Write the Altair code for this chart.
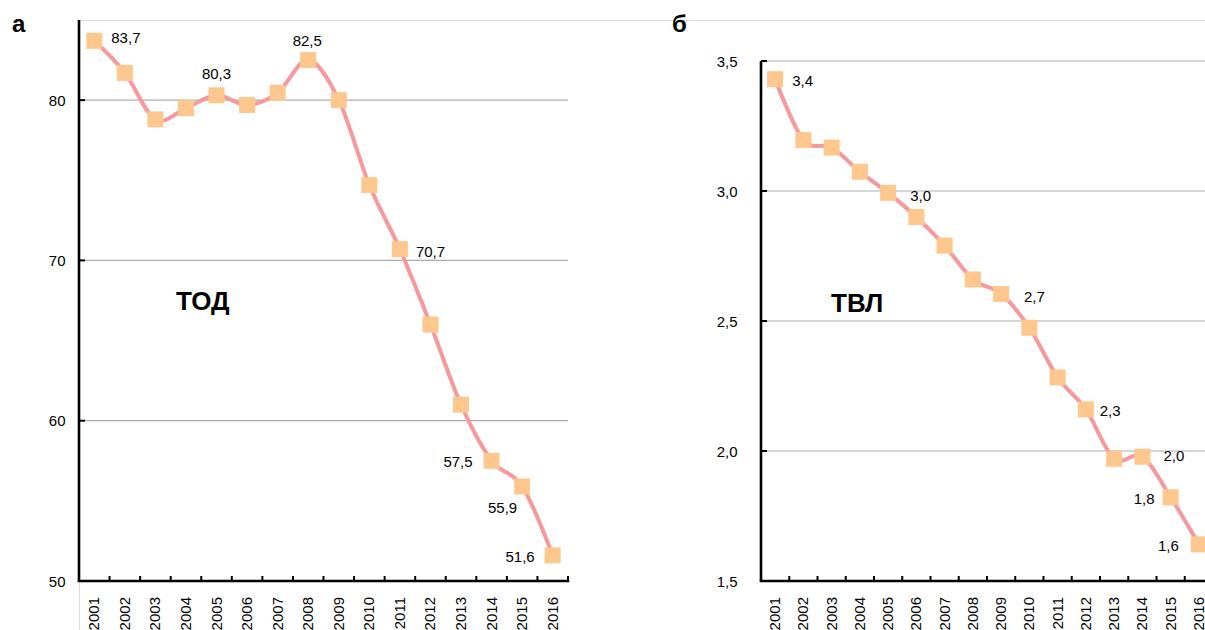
import altair as alt
import pandas as pd

# --- data -------------------------------------------------------------
years = [str(y) for y in range(2001, 2017)]

# panel "а": ТОД
tod_values = [83.7, 81.7, 78.8, 79.5, 80.3, 79.7, 80.45, 82.5,
              80.0, 74.7, 70.7, 66.0, 61.0, 57.5, 55.9, 51.6]
tod_ticks = [50, 60, 70, 80]
tod_grid = [60, 70, 80]
# years whose value is printed next to the marker
tod_labelled = ["2001", "2005", "2008", "2011", "2014", "2015", "2016"]

# panel "б": ТВЛ
tvl_values = [3.43, 3.196, 3.167, 3.074, 2.993, 2.90, 2.79, 2.66,
              2.604, 2.474, 2.283, 2.16, 1.970, 1.978, 1.822, 1.641]
tvl_ticks = [1.5, 2.0, 2.5, 3.0, 3.5]
tvl_grid = [2.0, 2.5, 3.0, 3.5]
tvl_labelled = ["2001", "2005", "2008", "2011", "2014", "2015", "2016"]

# --- styling / layout -------------------------------------------------
FONT = "Liberation Sans"
LINE_COLOR = "#F4999C"
MARKER_COLOR = "#FDC78D"
GRID_COLOR = "#ADADAD"
W, H = 1126, 610          # drawing area of the whole figure
BASE = 561                # pixel row of both x axes inside the drawing area

# placement of the value labels: (align, dx, dy) per labelled year
tod_label_style = [("left", 17, -3), ("center", 0, -21), ("center", -1, -19),
                   ("left", 16, 3), ("right", -19, 1), ("right", -5, 22),
                   ("right", -18, 2)]
tvl_label_style = [("left", 17, 2), ("left", 22, 3), ("left", 51, 18),
                   ("left", 42, 34), ("left", 21, -1), ("right", -16, 2),
                   ("right", -20, 2)]


def fmt_comma(v, digits):
    return f"{v:.{digits}f}".replace(".", ",")


def panel(values, x_range, y_domain, y_top, ticks, grid, grid_end,
          labelled, label_style, tick_fmt, y_offset, y_label_pad,
          letter, letter_x, name, name_x, name_y):
    df = pd.DataFrame({"year": years, "v": values})

    x_scale = alt.Scale(domain=years, range=x_range,
                        paddingInner=0, paddingOuter=0)
    y_scale = alt.Scale(domain=y_domain, range=[BASE, y_top],
                        nice=False, zero=False)
    y_axis = alt.Axis(orient="left", offset=y_offset, title=None,
                      values=ticks, labelFontSize=15, labelColor="black",
                      labelPadding=y_label_pad, ticks=False, tickSize=0,
                      domain=False, grid=False, labelFont=FONT,
                      labelExpr=f"replace(format(datum.value, '{tick_fmt}'), '.', ',')")

    def X(field, **kw):
        return alt.X(field, sort=years, scale=x_scale, axis=None, **kw)

    def Y(field):
        return alt.Y(field, scale=y_scale, axis=y_axis)

    x0, x1 = x_range

    gridlines = alt.Chart(pd.DataFrame({"g": grid})).mark_rule(
        color=GRID_COLOR, strokeWidth=1.2
    ).encode(y=Y("g:Q"), x=alt.value(x0), x2=alt.value(grid_end))

    # axis lines
    x_axis_line = alt.Chart(pd.DataFrame({"g": [y_domain[0]]})).mark_rule(
        color="black", strokeWidth=2.6, strokeCap="square"
    ).encode(y=Y("g:Q"), x=alt.value(x0), x2=alt.value(x1))
    y_axis_line = alt.Chart(pd.DataFrame({"g": [y_domain[0]]})).mark_rule(
        color="black", strokeWidth=2.6, strokeCap="butt"
    ).encode(x=alt.value(x0), y=alt.value(y_top), y2=alt.value(BASE))

    # short inward tick marks
    y_tick_marks = alt.Chart(pd.DataFrame({"t": ticks})).mark_tick(
        orient="horizontal", size=6, thickness=2, color="black",
        xOffset=3, opacity=1
    ).encode(y=Y("t:Q"), x=alt.value(x0))

    x_tick_marks = alt.Chart(df).mark_tick(
        orient="vertical", size=5, thickness=2, color="black",
        yOffset=-2.5, opacity=1
    ).encode(x=X("year:N", bandPosition=1), y=alt.value(BASE))

    # year labels under the axis, reading upwards
    year_labels = alt.Chart(df).mark_text(
        angle=270, align="right", baseline="middle", dy=0,
        fontSize=15, font=FONT, color="black"
    ).encode(x=X("year:N"), y=alt.value(BASE + 16), text="year:N")

    line = alt.Chart(df).mark_line(
        color=LINE_COLOR, strokeWidth=4, interpolate="cardinal", tension=0
    ).encode(x=X("year:N"), y=Y("v:Q"))

    points = alt.Chart(df).mark_point(
        shape="square", filled=True, size=256, color=MARKER_COLOR, opacity=1
    ).encode(x=X("year:N"), y=Y("v:Q"))

    label_layers = []
    for yr, (align, dx, dy) in zip(labelled, label_style):
        v = values[years.index(yr)]
        ldf = pd.DataFrame({"year": [yr], "v": [v], "txt": [fmt_comma(v, 1)]})
        label_layers.append(
            alt.Chart(ldf).mark_text(
                align=align, baseline="middle", dx=dx, dy=dy,
                fontSize=15, font=FONT, color="black"
            ).encode(x=X("year:N"), y=Y("v:Q"), text="txt:N")
        )

    letter_mark = alt.Chart(pd.DataFrame({"t": [letter]})).mark_text(
        align="left", baseline="alphabetic", fontSize=24, fontWeight="bold",
        font=FONT, color="black"
    ).encode(x=alt.value(letter_x), y=alt.value(12), text="t:N")

    name_mark = alt.Chart(pd.DataFrame({"t": [name]})).mark_text(
        align="left", baseline="alphabetic", fontSize=26, fontWeight="bold",
        font=FONT, color="black"
    ).encode(x=alt.value(name_x), y=alt.value(name_y), text="t:N")

    return alt.layer(gridlines, line, points, x_axis_line, y_axis_line,
                     y_tick_marks, x_tick_marks, year_labels,
                     *label_layers, letter_mark, name_mark)


left = panel(tod_values, [0, 489], [50, 85], 0, tod_ticks, tod_grid, 489,
             tod_labelled, tod_label_style, ".0f", 0, 14,
             "а", -67, "ТОД", 97, 290)

right = panel(tvl_values, [682, 1134], [1.5, 3.5], 41, tvl_ticks, tvl_grid, 1134,
              tvl_labelled, tvl_label_style, ".1f", -682, 24,
              "б", 593, "ТВЛ", 752, 292)

chart = alt.layer(left, right).resolve_scale(
    x="independent", y="independent"
).properties(
    width=W, height=H,
    autosize=alt.AutoSizeParams(type="none"),
    padding={"left": 79, "top": 20, "right": 0, "bottom": 0},
).configure_view(
    stroke=None
).configure(font=FONT, background="white")

chart.save("out.html", embed_options={"renderer": "svg", "actions": False})
